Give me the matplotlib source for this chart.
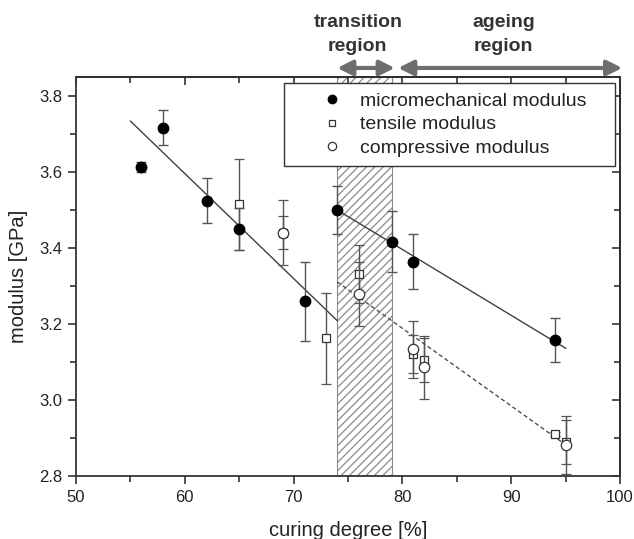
import matplotlib
matplotlib.use("Agg")
import matplotlib.pyplot as plt
from matplotlib.ticker import MultipleLocator, FormatStrFormatter
from matplotlib.patches import Rectangle

plt.rcParams['font.family'] = ['Liberation Sans', 'DejaVu Sans']
plt.rcParams['hatch.color'] = '#707070'
plt.rcParams['hatch.linewidth'] = 0.9

# micromechanical modulus
micro_x = [56, 58, 62, 65, 71, 74, 79, 81, 94]
micro_y = [3.614, 3.717, 3.525, 3.450, 3.260, 3.500, 3.417, 3.364, 3.158]
micro_err = [0.013, 0.046, 0.060, 0.056, 0.104, 0.062, 0.080, 0.072, 0.059]

# tensile modulus
tens_x = [65, 69, 73, 76, 81, 82, 94, 95]
tens_y = [3.515, 3.440, 3.162, 3.331, 3.121, 3.105, 2.910, 2.889]
tens_err = [0.120, 0.043, 0.120, 0.077, 0.050, 0.057, 0.005, 0.058]

# compressive modulus
comp_x = [69, 76, 81, 82, 95]
comp_y = [3.440, 3.279, 3.134, 3.086, 2.882]
comp_err = [0.086, 0.083, 0.075, 0.083, 0.077]

# linear fits (end points)
fit1_x = [55, 74]
fit1_y = [3.734, 3.209]
fit2_x = [74, 95]
fit2_y = [3.500, 3.136]
fit3_x = [74, 95]
fit3_y = [3.311, 2.882]

transition = (74, 79)

fig = plt.figure(figsize=(6.34, 5.39), dpi=100)
ax = fig.add_axes([0.12, 0.117, 0.858, 0.740])

ax.axvspan(transition[0], transition[1], facecolor='white', edgecolor='#8a8a8a',
           hatch='////', linewidth=0.8, zorder=0)

ax.plot(fit1_x, fit1_y, color='#404040', lw=1.0, zorder=2)
ax.plot(fit2_x, fit2_y, color='#404040', lw=1.0, zorder=2)
ax.plot(fit3_x, fit3_y, color='#505050', lw=1.0, ls=(0, (3, 2)), zorder=2)

ekw = dict(ecolor='#555555', elinewidth=1.0, capsize=3.5, capthick=1.0, ls='none')
ax.errorbar(tens_x, tens_y, yerr=tens_err, marker='s', ms=6, mfc='white',
            mec='#333333', mew=0.9, zorder=3, label='tensile modulus', **ekw)
ax.errorbar(comp_x, comp_y, yerr=comp_err, marker='o', ms=7.5, mfc='white',
            mec='#333333', mew=0.9, zorder=4, label='compressive modulus', **ekw)
ax.errorbar(micro_x, micro_y, yerr=micro_err, marker='o', ms=7.5, mfc='black',
            mec='black', zorder=5, label='micromechanical modulus', **ekw)

ax.set_xlim(50, 100)
ax.set_ylim(2.8, 3.85)
ax.xaxis.set_major_locator(MultipleLocator(10))
ax.xaxis.set_minor_locator(MultipleLocator(5))
ax.yaxis.set_major_locator(MultipleLocator(0.2))
ax.yaxis.set_minor_locator(MultipleLocator(0.1))
ax.yaxis.set_major_formatter(FormatStrFormatter('%.1f'))
ax.tick_params(which='both', direction='out', top=False, right=False, labelsize=12,
               width=1.2, color='#333333', labelcolor='#222222')
ax.tick_params(which='major', length=6, pad=4)
ax.tick_params(which='minor', length=4)
for s in ax.spines.values():
    s.set_linewidth(1.3)
    s.set_color('#333333')

# inward ticks on top/right
axt = ax.secondary_xaxis('top')
axt.xaxis.set_major_locator(MultipleLocator(10))
axt.xaxis.set_minor_locator(MultipleLocator(5))
axt.tick_params(which='both', direction='in', labeltop=False, width=1.2, color='#333333')
axt.tick_params(which='major', length=6)
axt.tick_params(which='minor', length=4)
axt.spines['top'].set_linewidth(1.3)
axr = ax.secondary_yaxis('right')
axr.yaxis.set_major_locator(MultipleLocator(0.2))
axr.yaxis.set_minor_locator(MultipleLocator(0.1))
axr.tick_params(which='both', direction='in', labelright=False, width=1.2, color='#333333')
axr.tick_params(which='major', length=6)
axr.tick_params(which='minor', length=4)
axr.spines['right'].set_linewidth(1.3)

ax.set_xlabel('curing degree [%]', fontsize=14.5, labelpad=12, color='#222222')
ax.set_ylabel('modulus [GPa]', fontsize=14.5, labelpad=8, color='#222222')

# legend box drawn separately (wider padding than matplotlib's legend frame)
ax.add_patch(Rectangle((0.382, 0.777), 0.609, 0.208, transform=ax.transAxes,
                       facecolor='white', edgecolor='#333333', lw=1.0, zorder=6))
h, l = ax.get_legend_handles_labels()
order = [2, 0, 1]
leg = ax.legend([h[i][0] for i in order], [l[i] for i in order], loc='center left',
                bbox_to_anchor=(0.4224, 0.881), fontsize=14, frameon=False,
                handletextpad=0.45, borderpad=0.35, labelspacing=0.3,
                markerscale=0.8, handlelength=2.0, borderaxespad=0.0)
leg.set_zorder(7)
for t in leg.get_texts():
    t.set_color('#222222')

# region arrows above axes
arrow_y = 3.85 + 0.024
akw = dict(arrowstyle='<|-|>,head_length=0.9,head_width=0.45', color='#6e6e6e', lw=3,
           shrinkA=0, shrinkB=0)
ax.annotate('', xy=(74.0, arrow_y), xytext=(79.3, arrow_y), annotation_clip=False,
            arrowprops=akw)
ax.annotate('', xy=(79.6, arrow_y), xytext=(100.2, arrow_y), annotation_clip=False,
            arrowprops=akw)
ax.text(75.9, 3.962, 'transition\nregion', ha='center', va='center', fontsize=14,
        fontweight='bold', color='#333333', linespacing=1.55, clip_on=False)
ax.text(89.3, 3.962, 'ageing\nregion', ha='center', va='center', fontsize=14,
        fontweight='bold', color='#333333', linespacing=1.55, clip_on=False)

fig.savefig('out.png', dpi=100)
